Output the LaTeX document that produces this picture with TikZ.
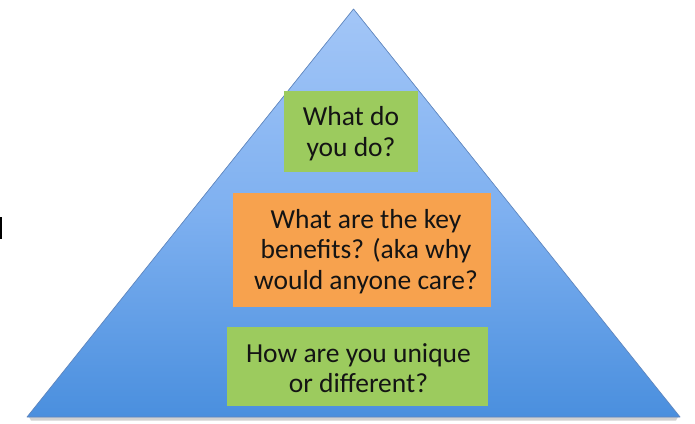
\documentclass[tikz,border=0pt]{standalone}
\usepackage{fontspec}
\setmainfont{Carlito}
\definecolor{pyrtop}{HTML}{A3C6F7}
\definecolor{pyrmid}{HTML}{7EB0F0}
\definecolor{pyrbot}{HTML}{4A8FDE}
\definecolor{pyredge}{HTML}{5F86BE}
\definecolor{boxgreen}{HTML}{9CCB5E}
\definecolor{boxorange}{HTML}{F7A24E}
\definecolor{inktext}{HTML}{141414}
\tikzset{
  qbox/.style={inner sep=0pt, outer sep=0pt, text=inktext, align=center,
    font=\fontsize{27.5}{30.5}\selectfont},
}
\begin{document}
\begin{tikzpicture}[x=1pt,y=-1pt]
  \useasboundingbox (0,0) rectangle (695,423);
  % pyramid apex and base corners
  \coordinate (apex) at (353.5,9);
  \coordinate (bl) at (27,417);
  \coordinate (br) at (680,417);
  % soft shadow under the base
  \fill[black!18] (29,417) -- (678,417) -- (676,420.5) -- (31,420.5) -- cycle;
  % gradient pyramid body
  \shade[top color=pyrtop, bottom color=pyrbot, middle color=pyrmid]
    (apex) -- (br) -- (bl) -- cycle;
  \draw[pyredge, line width=0.7pt, line join=round] (apex) -- (br) -- (bl) -- cycle;
  % stray mark at the left edge
  \fill[black] (0,217) rectangle (2.2,239);
  % question boxes
  \fill[boxgreen] (284,91) rectangle (418,172);
  \node[qbox] (q1) at (351,133.5) {What do\\you do?};
  \fill[boxorange] (233,193) rectangle (491,307);
  \node[qbox] (q2) at (366,251.5) {What are the key\\benefits? (aka why\\would anyone care?};
  \fill[boxgreen] (227,327) rectangle (488,406);
  \node[qbox] (q3) at (358.5,368) {How are you unique\\or different?};
\end{tikzpicture}
\end{document}
